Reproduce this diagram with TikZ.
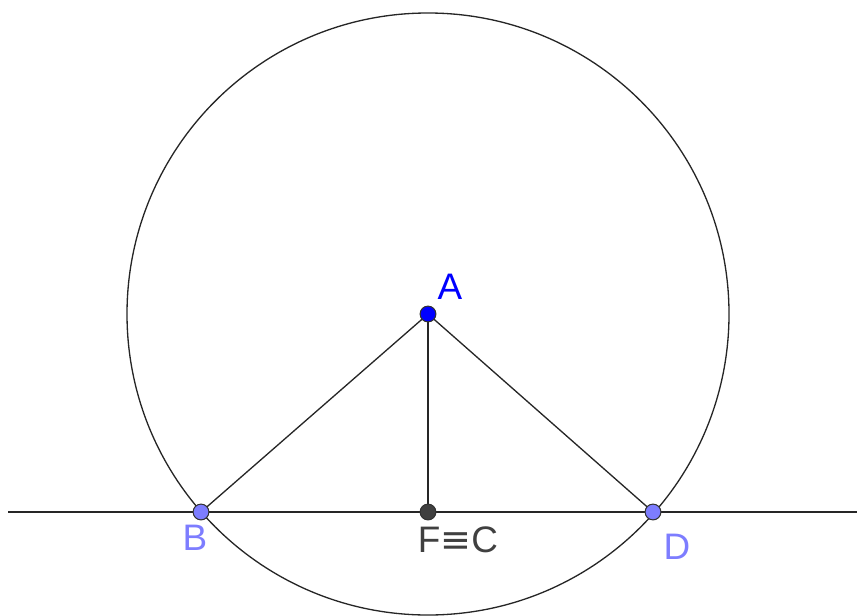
\documentclass[tikz,border=0pt]{standalone}
\usepackage{fontspec}
\setmainfont{Liberation Sans}
\newfontfamily\symfont{DejaVu Sans}
\definecolor{ptblue}{RGB}{0,0,255}
\definecolor{ptlight}{RGB}{125,125,255}
\definecolor{ptdark}{RGB}{64,64,64}
\begin{document}
\begin{tikzpicture}[
  x=0.02cm, y=-0.02cm,
  geo/.style={line width=0.75pt, draw=black!85},
  pt/.style={circle, draw=black!80, line width=0.6pt, minimum size=9pt, inner sep=0pt},
  lbl/.style={font=\fontsize{21}{21}\selectfont, inner sep=0pt}
]
\useasboundingbox (0,0) rectangle (857,615);
% points
\coordinate (A) at (428,314);
\coordinate (B) at (201,512);
\coordinate (F) at (428,512);
\coordinate (D) at (653,512);
\coordinate (Lft) at (8,512);
\coordinate (Rgt) at (857,512);
% circle and line
\draw[geo] (A) circle (301);
\draw[geo] (Lft) -- (Rgt);
\draw[geo] (B) -- (A) -- (D);
\draw[geo] (A) -- (F);
% point markers
\node[pt, fill=ptblue] (nA) at (A) {};
\node[pt, fill=ptlight] (nB) at (B) {};
\node[pt, fill=ptdark] (nF) at (F) {};
\node[pt, fill=ptlight] (nD) at (D) {};
% labels
\node[lbl, text=ptblue] (tA) at (450,287) {A};
\node[lbl, text=ptlight] (tB) at (195,538) {B};
\node[lbl, text=ptdark] (tF) at (458,540) {F{\symfont ≡}C};
\node[lbl, text=ptlight] (tD) at (677,547) {D};
\end{tikzpicture}
\end{document}
